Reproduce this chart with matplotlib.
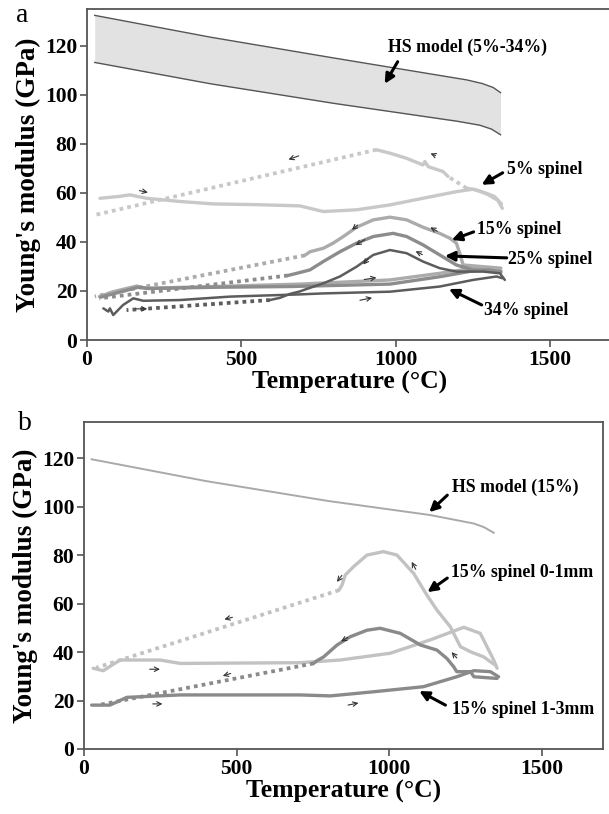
import matplotlib
matplotlib.use("Agg")
import matplotlib.pyplot as plt
import numpy as np

plt.rcParams['font.family'] = ['Liberation Serif', 'DejaVu Serif']

# ---------------- panel a data (T in degC, E in GPa) ----------------
hs_a_up_t = [25, 400, 800, 1229, 1280, 1315, 1339]
hs_a_up_e = [132.4, 123.5, 115.0, 106.1, 104.6, 103.0, 100.9]
hs_a_lo_t = [25, 400, 800, 1200, 1272, 1310, 1339]
hs_a_lo_e = [113.2, 104.5, 96.5, 89.2, 87.6, 86.0, 83.7]

s5_heat_t = [42, 100, 139, 193, 301, 409, 550, 689, 765, 873, 981, 1088, 1196, 1250, 1290, 1320, 1342]
s5_heat_e = [57.8, 58.5, 59.2, 57.8, 56.5, 55.5, 55.2, 54.7, 52.4, 53.1, 55.1, 57.8, 60.5, 61.5, 60.0, 58.5, 55.5]
s5_cool_end_t = [1345, 1330, 1300, 1261, 1229]
s5_cool_end_e = [53.7, 57.0, 59.2, 61.2, 61.9]
s5_cool_gap_t = [1229, 1169]
s5_cool_gap_e = [61.9, 66.7]
s5_cool_t = [1169, 1153, 1105, 1094, 1088, 1035, 981, 937]
s5_cool_e = [66.7, 68.7, 70.7, 72.8, 71.4, 74.1, 76.2, 77.6]
s5_dot_t = [937, 26]
s5_dot_e = [77.6, 51.0]

s15_heat_t = [40, 85, 161, 193, 409, 689, 981, 1142, 1250, 1300, 1340]
s15_heat_e = [17.7, 19.7, 22.0, 21.1, 21.8, 22.8, 24.5, 27.2, 29.3, 29.0, 28.2]
s15_cool_t = [1340, 1283, 1218, 1207, 1196, 1175, 1142, 1088, 1035, 981, 927, 873, 830, 797, 765, 722, 705]
s15_cool_e = [29.3, 29.9, 30.6, 35.4, 39.5, 41.5, 43.5, 46.0, 49.0, 50.1, 49.0, 46.0, 42.2, 39.5, 37.4, 36.0, 34.5]
s15_dot_t = [705, 25]
s15_dot_e = [34.5, 17.8]

s25_heat_t = [45, 90, 165, 200, 409, 657, 981, 1142, 1250, 1300, 1340]
s25_heat_e = [17.5, 19.0, 21.5, 21.0, 21.5, 21.8, 22.8, 25.8, 28.2, 28.6, 27.5]
s25_cool_t = [1340, 1250, 1196, 1142, 1088, 1035, 991, 927, 873, 819, 765, 722, 679, 650]
s25_cool_e = [27.9, 28.6, 30.6, 34.7, 38.8, 42.2, 43.5, 42.2, 39.5, 36.0, 32.0, 28.6, 27.2, 26.3]
s25_dot_t = [650, 40]
s25_dot_e = [26.3, 17.0]

s34_heat_t = [53, 69, 74, 85, 117, 150, 182, 301, 463, 689, 765, 981, 1142, 1250, 1326, 1345]
s34_heat_e = [12.9, 11.6, 12.9, 10.2, 14.3, 17.0, 16.0, 16.3, 17.7, 18.6, 19.0, 19.7, 21.8, 24.5, 25.9, 25.2]
s34_cool_t = [1353, 1337, 1283, 1196, 1142, 1088, 1035, 981, 927, 873, 819, 765, 711, 689, 657, 625, 592]
s34_cool_e = [24.5, 27.2, 27.9, 27.9, 29.3, 32.0, 35.4, 36.7, 34.7, 29.9, 25.9, 23.1, 20.8, 19.8, 18.8, 17.2, 16.3]
s34_dot_t = [592, 128]
s34_dot_e = [16.3, 12.2]

# ---------------- panel b data ----------------
hs_b_t = [25, 400, 800, 1134, 1277, 1310, 1342]
hs_b_e = [119.5, 110.5, 102.3, 96.5, 93.0, 91.5, 89.2]

f01_heat_t = [30, 63, 118, 249, 315, 708, 839, 1003, 1134, 1244, 1298, 1320, 1342, 1353]
f01_heat_e = [33.3, 32.3, 36.7, 36.7, 35.3, 35.6, 36.7, 39.5, 45.0, 50.2, 47.7, 42.2, 36.7, 33.3]
f01_cool_t = [1348, 1331, 1309, 1266, 1233, 1200, 1156, 1123, 1080, 1025, 981, 927, 883, 856, 845, 835]
f01_cool_e = [34.6, 36.0, 38.0, 40.1, 42.2, 50.4, 57.3, 63.5, 72.4, 80.0, 81.4, 80.0, 75.2, 71.8, 67.6, 65.5]
f01_dot_t = [835, 40]
f01_dot_e = [65.5, 33.5]

f13_heat_t = [25, 85, 140, 315, 708, 807, 948, 1112, 1221, 1277, 1331, 1358]
f13_heat_e = [18.1, 18.1, 21.3, 22.3, 22.3, 21.9, 23.6, 25.7, 29.8, 32.3, 31.9, 29.8]
f13_cool_t = [1353, 1277, 1266, 1221, 1211, 1189, 1156, 1102, 1036, 970, 927, 872, 829, 785, 763, 752]
f13_cool_e = [29.1, 29.8, 31.9, 31.9, 33.9, 37.3, 40.8, 42.9, 47.7, 49.8, 49.0, 46.3, 42.9, 38.0, 36.4, 35.3]
f13_dot_t = [752, 42]
f13_dot_e = [35.3, 18.0]

C5, C15, C25, C34 = '#c8c8c8', '#ababab', '#8c8c8c', '#5c5c5c'
C01, C13, CHS = '#c2c2c2', '#8a8a8a', '#a9a9a9'
SPINE = '#555555'

fig = plt.figure(figsize=(6.09, 8.14), dpi=100)
ax_a = fig.add_axes([87 / 609, 1 - 340 / 814, 525 / 609, 331 / 814])
ax_b = fig.add_axes([84 / 609, 1 - 749 / 814, 519 / 609, 327.3 / 814])


def solid(ax, t, e, c, lw=2.4):
    ax.plot(t, e, color=c, lw=lw, solid_capstyle='round', solid_joinstyle='round')


def dotted(ax, t, e, c, lw=2.7):
    ax.plot(t, e, color=c, lw=lw, linestyle=(0, (1.0, 1.1)), dash_capstyle='butt')


def small_arrow(ax, tail, head):
    ax.annotate('', xy=head, xytext=tail,
                arrowprops=dict(arrowstyle='->', color='#333333', lw=0.8, mutation_scale=8))


def label(ax, text, xy_text, tail, head):
    ax.text(xy_text[0], xy_text[1], text, fontsize=12.8, fontweight='bold', ha='left', va='center')
    ax.annotate('', xy=head, xytext=tail,
                arrowprops=dict(arrowstyle='-|>', color='black', lw=2.2, mutation_scale=14,
                                shrinkA=0, shrinkB=0))


def style(ax, right=True):
    ax.set_xlim(0, 1700)
    ax.set_ylim(0, 135)
    ax.set_xticks([0, 500, 1000, 1500])
    ax.set_yticks([0, 20, 40, 60, 80, 100, 120])
    for s in ax.spines.values():
        s.set_color(SPINE)
        s.set_linewidth(1.3)
    ax.spines['right'].set_visible(right)
    ax.tick_params(direction='out', length=5, width=1.2, color=SPINE, labelsize=15.5, pad=2)
    for lab in ax.get_xticklabels() + ax.get_yticklabels():
        lab.set_fontweight('bold')
    ax.set_xlabel('Temperature (\u00b0C)', fontsize=18.5, fontweight='bold', labelpad=1)
    ax.set_ylabel("Young's modulus (GPa)", fontsize=19.5, fontweight='bold', labelpad=3)


# ---------------- panel a ----------------
ax = ax_a
style(ax, right=False)
lo_on_up = np.interp(hs_a_up_t, hs_a_lo_t, hs_a_lo_e)
ax.fill_between(hs_a_up_t, hs_a_up_e, lo_on_up, color='#e2e2e2', lw=0)
ax.plot(hs_a_up_t, hs_a_up_e, color='#555555', lw=1.0)
ax.plot(hs_a_lo_t, hs_a_lo_e, color='#555555', lw=1.0)

solid(ax, s5_heat_t, s5_heat_e, C5)
solid(ax, s5_cool_end_t, s5_cool_end_e, C5)
dotted(ax, s5_cool_gap_t, s5_cool_gap_e, C5)
solid(ax, s5_cool_t, s5_cool_e, C5)
dotted(ax, s5_dot_t, s5_dot_e, C5)

solid(ax, s15_heat_t, s15_heat_e, C15)
solid(ax, s15_cool_t, s15_cool_e, C15)
dotted(ax, s15_dot_t, s15_dot_e, C15)

solid(ax, s25_heat_t, s25_heat_e, C25)
solid(ax, s25_cool_t, s25_cool_e, C25)
dotted(ax, s25_dot_t, s25_dot_e, C25)

solid(ax, s34_heat_t, s34_heat_e, C34, lw=1.8)
solid(ax, s34_cool_t, s34_cool_e, C34, lw=1.8)
dotted(ax, s34_dot_t, s34_dot_e, C34)

for tail, head in [((694, 75.5), (644, 73.2)), ((161, 61.2), (206, 59.9)),
                   ((1137, 74.8), (1104, 76.5)), ((149, 12.7), (204, 12.7)),
                   ((883, 47.6), (851, 44.2)), ((907, 41.5), (862, 38.1)),
                   ((916, 34.0), (889, 29.9)), ((1142, 43.8), (1104, 46.5)),
                   ((1094, 34.3), (1056, 36.7)), ((889, 24.5), (946, 25.6)),
                   ((875, 16.0), (932, 17.4))]:
    small_arrow(ax, tail, head)

label(ax, 'HS model (5%-34%)', (974, 119.2), (1006, 113.5), (964, 104.5))
label(ax, '5% spinel', (1359, 69.4), (1346, 68.2), (1278, 63.3))
label(ax, '15% spinel', (1262, 44.9), (1252, 44.1), (1181, 40.8))
label(ax, '25% spinel', (1362, 33.0), (1359, 33.5), (1159, 34.3))
label(ax, '34% spinel', (1285, 12.2), (1278, 14.3), (1172, 20.8))

# ---------------- panel b ----------------
ax = ax_b
style(ax, right=True)
ax.plot(hs_b_t, hs_b_e, color=CHS, lw=1.4)

solid(ax, f01_heat_t, f01_heat_e, C01)
solid(ax, f01_cool_t, f01_cool_e, C01)
dotted(ax, f01_dot_t, f01_dot_e, C01)

solid(ax, f13_heat_t, f13_heat_e, C13)
solid(ax, f13_cool_t, f13_cool_e, C13)
dotted(ax, f13_dot_t, f13_dot_e, C13)

for tail, head in [((1091, 73.1), (1069, 78.2)), ((850, 72.5), (823, 68.0)),
                   ((495, 54.6), (451, 53.2)), ((206, 32.9), (258, 32.9)),
                   ((489, 31.5), (446, 29.8)), ((216, 18.6), (266, 18.6)),
                   ((872, 46.6), (834, 43.8)), ((1227, 36.7), (1198, 40.8)),
                   ((856, 17.9), (908, 19.2))]:
    small_arrow(ax, tail, head)

label(ax, 'HS model (15%)', (1207, 108.0), (1190, 104.7), (1131, 97.7))
label(ax, '15% spinel 0-1mm', (1203, 72.6), (1190, 70.5), (1125, 64.7))
label(ax, '15% spinel 1-3mm', (1207, 16.1), (1184, 18.1), (1098, 23.9))

fig.text(22 / 609, 1 - 15 / 814, 'a', fontsize=20, ha='center', va='center')
fig.text(25 / 609, 1 - 424 / 814, 'b', fontsize=20, ha='center', va='center')

fig.savefig('out.png', dpi=100, facecolor='white')
